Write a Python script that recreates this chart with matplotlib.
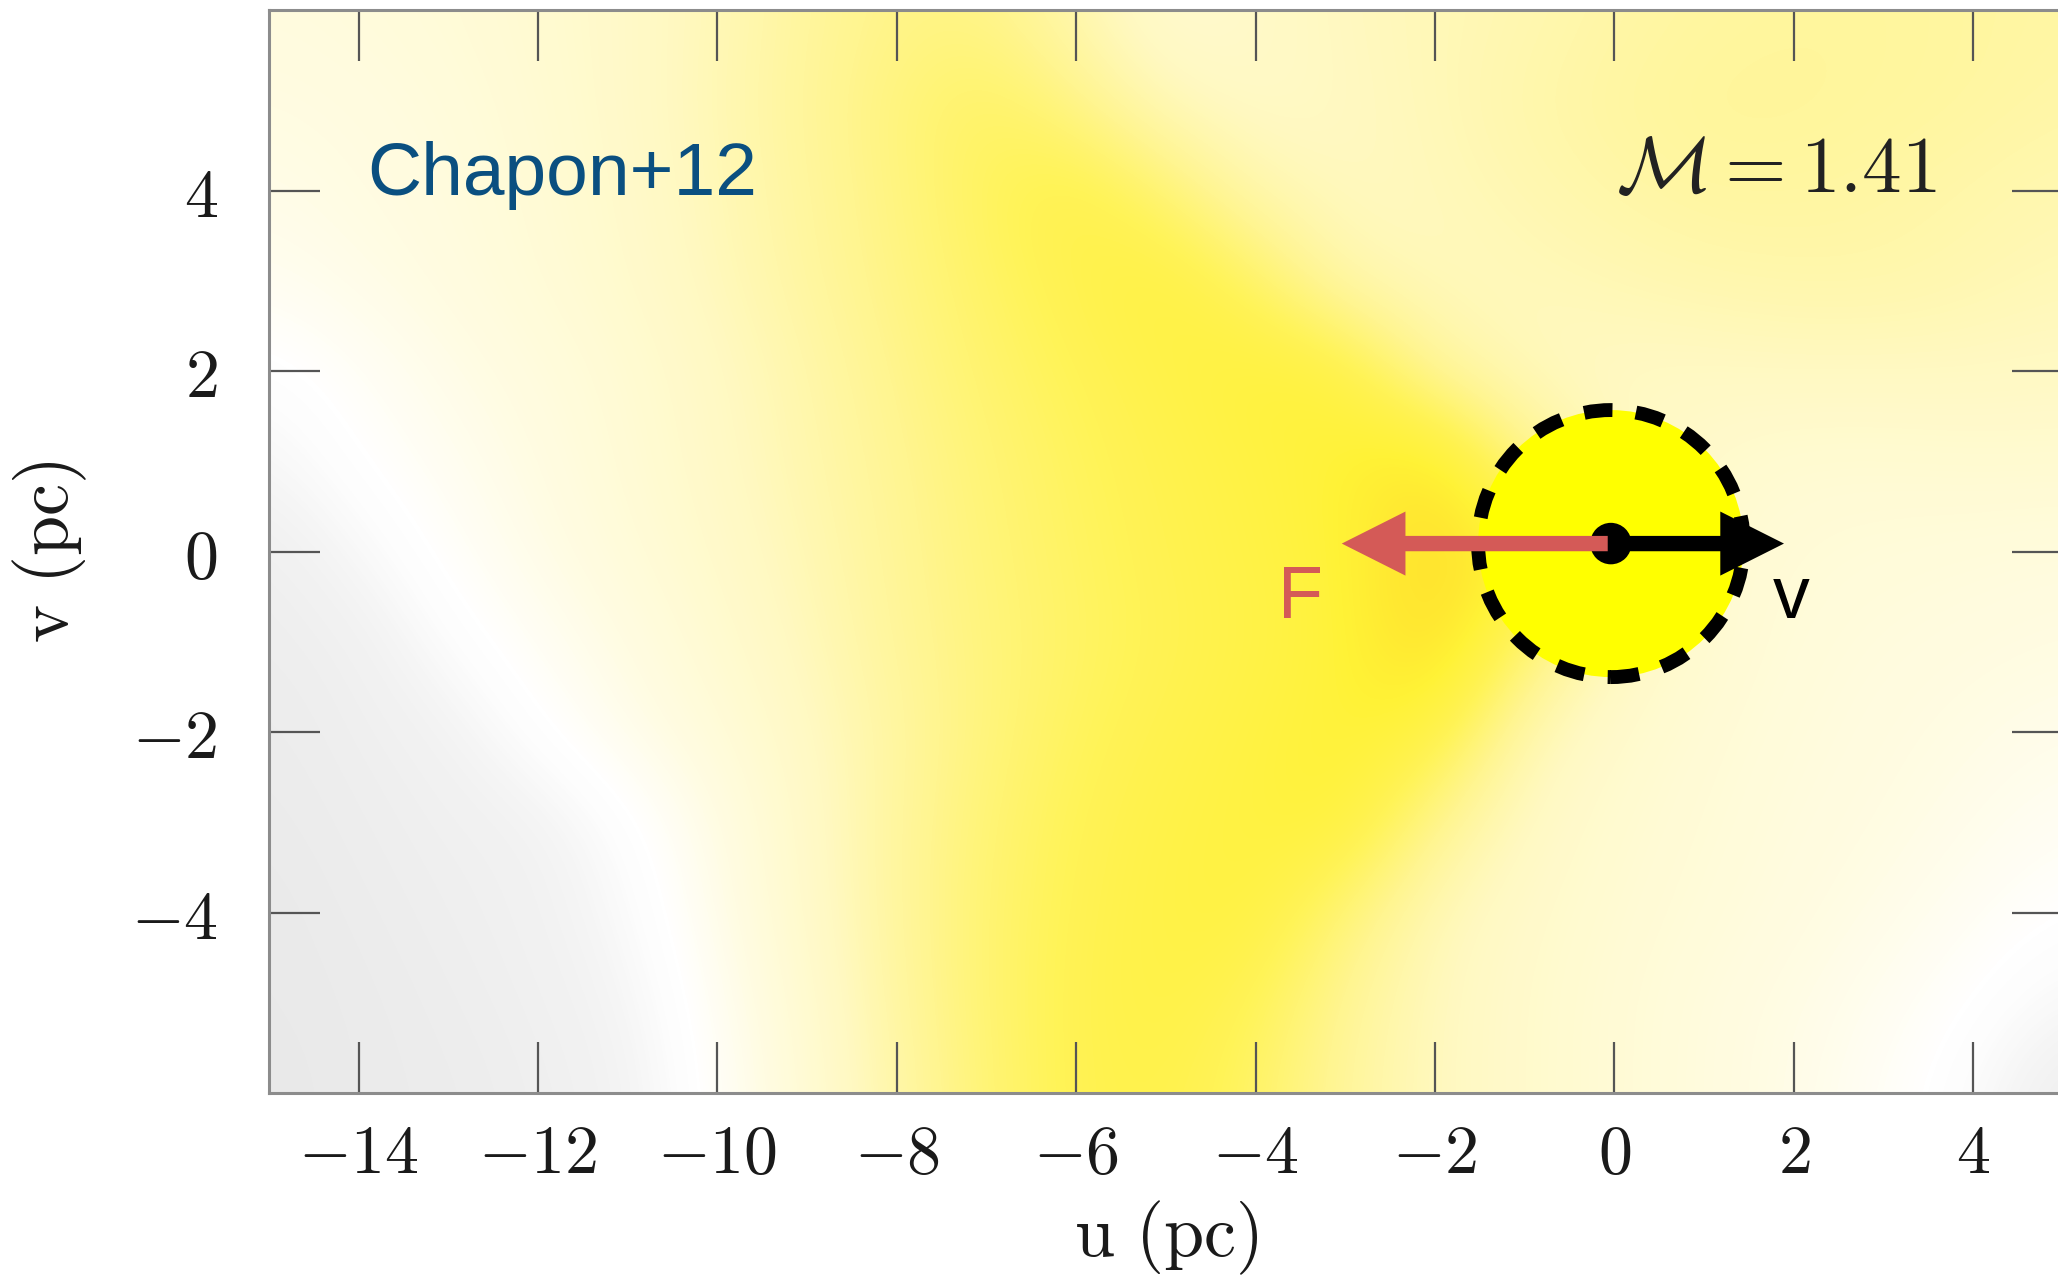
import numpy as np
import matplotlib
matplotlib.use("Agg")
import matplotlib.pyplot as plt
from matplotlib.colors import LinearSegmentedColormap
from matplotlib.patches import Circle

plt.rcParams['mathtext.fontset'] = 'cm'

# ---------------- data ----------------
grid_x = np.arange(-15, 6)          # column centres (pc)
grid_y = np.arange(6, -7, -1)       # row centres (pc), top to bottom

# estimated wake density (0 = grey background, 1 = peak), rows y=6 ... y=-6
row_p6 = [0.32, 0.33, 0.35, 0.38, 0.42, 0.48, 0.56, 0.62, 0.62, 0.50, 0.38, 0.42, 0.46, 0.48, 0.50, 0.53, 0.55, 0.56, 0.56, 0.55, 0.54]
row_p5 = [0.30, 0.31, 0.33, 0.37, 0.42, 0.49, 0.57, 0.65, 0.72, 0.62, 0.46, 0.42, 0.45, 0.48, 0.52, 0.55, 0.57, 0.57, 0.56, 0.55, 0.53]
row_p4 = [0.28, 0.30, 0.32, 0.36, 0.41, 0.48, 0.56, 0.64, 0.73, 0.80, 0.68, 0.50, 0.45, 0.47, 0.50, 0.53, 0.55, 0.55, 0.54, 0.52, 0.50]
row_p3 = [0.25, 0.28, 0.31, 0.35, 0.40, 0.47, 0.55, 0.63, 0.71, 0.78, 0.83, 0.72, 0.50, 0.46, 0.47, 0.49, 0.51, 0.52, 0.52, 0.50, 0.48]
row_p2 = [0.18, 0.23, 0.28, 0.32, 0.37, 0.44, 0.52, 0.61, 0.69, 0.75, 0.80, 0.85, 0.83, 0.55, 0.46, 0.44, 0.44, 0.45, 0.45, 0.45, 0.44]
row_p1 = [0.13, 0.20, 0.25, 0.30, 0.36, 0.43, 0.51, 0.59, 0.67, 0.73, 0.78, 0.82, 0.87, 0.95, 0.62, 0.45, 0.40, 0.37, 0.37, 0.38, 0.38]
row_00 = [0.07, 0.14, 0.22, 0.28, 0.34, 0.41, 0.49, 0.58, 0.66, 0.72, 0.77, 0.81, 0.86, 1.00, 0.90, 0.50, 0.38, 0.35, 0.34, 0.33, 0.32]
row_m1 = [0.06, 0.08, 0.17, 0.24, 0.30, 0.38, 0.47, 0.57, 0.65, 0.71, 0.76, 0.80, 0.85, 1.00, 0.70, 0.45, 0.38, 0.34, 0.32, 0.31, 0.30]
row_m2 = [0.05, 0.07, 0.10, 0.19, 0.27, 0.34, 0.44, 0.55, 0.65, 0.73, 0.78, 0.82, 0.87, 0.83, 0.50, 0.40, 0.36, 0.33, 0.31, 0.29, 0.27]
row_m3 = [0.04, 0.06, 0.08, 0.10, 0.18, 0.29, 0.42, 0.56, 0.67, 0.75, 0.80, 0.83, 0.86, 0.60, 0.44, 0.38, 0.35, 0.32, 0.30, 0.27, 0.24]
row_m4 = [0.03, 0.05, 0.07, 0.09, 0.15, 0.27, 0.41, 0.56, 0.68, 0.76, 0.81, 0.83, 0.66, 0.48, 0.41, 0.37, 0.34, 0.31, 0.28, 0.24, 0.20]
row_m5 = [0.03, 0.04, 0.06, 0.08, 0.12, 0.24, 0.38, 0.55, 0.68, 0.77, 0.81, 0.75, 0.58, 0.46, 0.40, 0.36, 0.32, 0.29, 0.25, 0.20, 0.14]
row_m6 = [0.02, 0.04, 0.05, 0.07, 0.10, 0.22, 0.36, 0.53, 0.67, 0.77, 0.79, 0.71, 0.56, 0.46, 0.40, 0.36, 0.32, 0.28, 0.23, 0.16, 0.06]

density = np.array([row_p6, row_p5, row_p4, row_p3, row_p2, row_p1, row_00,
                    row_m1, row_m2, row_m3, row_m4, row_m5, row_m6])

x_ticks = [-14, -12, -10, -8, -6, -4, -2, 0, 2, 4]
y_ticks = [-4, -2, 0, 2, 4]
mach = 1.41
label_ref = "Chapon+12"

# ---------------- figure ----------------
fig = plt.figure(figsize=(20.58, 12.86), dpi=100)
ax = fig.add_axes([0.1307, 0.1501, 0.8717, 0.8418])

cmap = LinearSegmentedColormap.from_list("wake", [
    (0.00, "#E6E6E6"),
    (0.06, "#EEEEEE"),
    (0.12, "#F5F5F5"),
    (0.17, "#FDFDFD"),
    (0.20, "#FFFFFF"),
    (0.30, "#FFFCE2"),
    (0.45, "#FFF9C2"),
    (0.60, "#FFF590"),
    (0.75, "#FFF356"),
    (0.87, "#FFF236"),
    (0.95, "#FFE52F"),
    (1.00, "#FFD42E"),
])

dx = 0.5
ax.imshow(density, cmap=cmap, vmin=0, vmax=1, origin='upper',
          extent=(grid_x[0] - dx, grid_x[-1] + dx, grid_y[-1] - dx, grid_y[0] + dx),
          interpolation='bicubic', interpolation_stage='data', aspect='auto', zorder=0)

ax.set_xlim(-15, 5)
ax.set_ylim(-6, 6)

# perturber
cx, cy, rad = -0.04, 0.09, 1.48
ax.add_patch(Circle((cx, cy), rad, facecolor='#FFFF00', edgecolor='none', zorder=2))
ax.add_patch(Circle((cx, cy), rad, facecolor='none', edgecolor='black',
                    linewidth=10, linestyle=(0, (2.05, 1.7)), zorder=3))

ax.arrow(cx, cy, 1.93, 0, width=0.17, head_width=0.71, head_length=0.71,
         length_includes_head=True, color='black', linewidth=0, zorder=4)
ax.add_patch(Circle((cx, cy), 0.23, facecolor='black', edgecolor='none', zorder=5))
ax.arrow(-0.075, cy, -2.965, 0, width=0.17, head_width=0.71, head_length=0.71,
         length_includes_head=True, color='#D45A57', linewidth=0, zorder=6)

ax.text(-3.5, -0.73, "F", color='#D45A57', fontsize=53, family='Liberation Sans',
        ha='center', va='baseline', zorder=7)
ax.text(1.97, -0.73, "v", color='black', fontsize=53, family='Liberation Sans',
        ha='center', va='baseline', zorder=7)

ax.text(-13.9, 3.95, label_ref, color='#0A4F80', fontsize=54, family='Liberation Sans',
        ha='left', va='baseline', zorder=7)
ax.text(3.59, 3.99, r'$\mathcal{M} = %.2f$' % mach, color='#222222', fontsize=57,
        ha='right', va='baseline', zorder=7)

# axes styling
ax.set_xticks(x_ticks)
ax.set_xticklabels([r'$%d$' % v for v in x_ticks])
ax.set_yticks(y_ticks)
ax.set_yticklabels([r'$%d$' % v for v in y_ticks])
ax.tick_params(axis='both', which='major', direction='in', length=37, width=1.6,
               color='#555555', labelsize=49, labelcolor='#1a1a1a',
               top=True, right=True)
ax.tick_params(axis='x', pad=20)
ax.tick_params(axis='y', pad=37)
for s in ax.spines.values():
    s.set_color('#8c8c8c')
    s.set_linewidth(2.2)

ax.set_xlabel(r'$\mathrm{u\ (pc)}$', fontsize=52, color='#1a1a1a', labelpad=9)
ax.set_ylabel(r'$\mathrm{v\ (pc)}$', fontsize=52, color='#1a1a1a', labelpad=30)

fig.savefig('out.png', dpi=100)
